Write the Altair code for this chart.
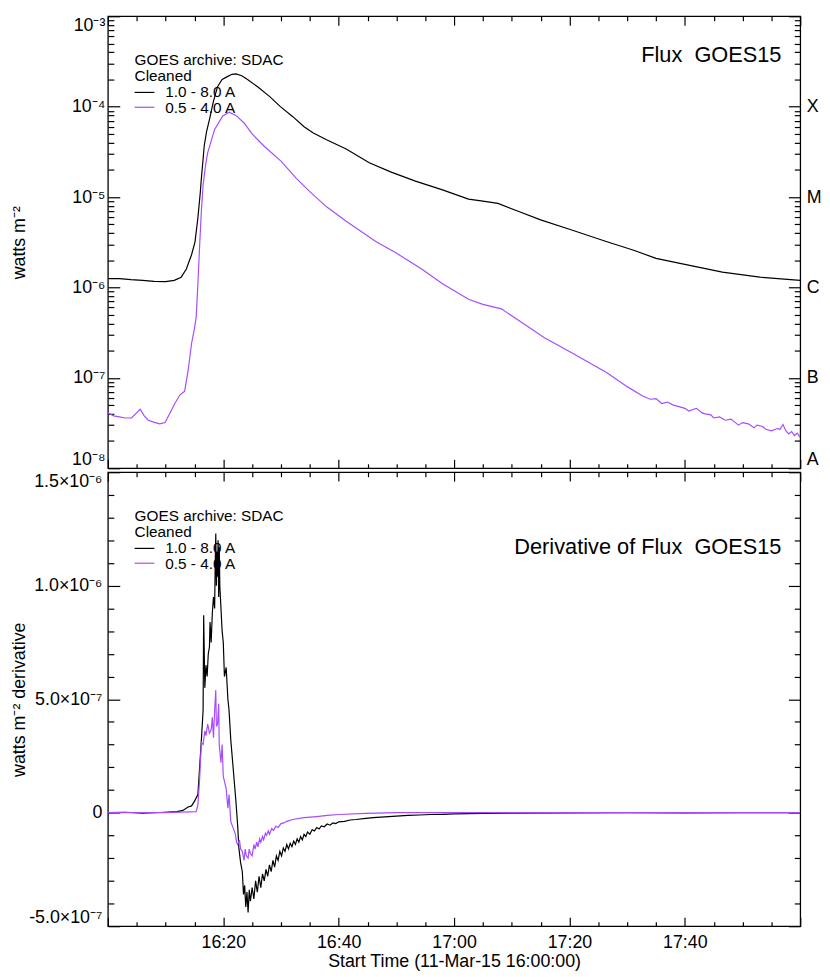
import json
import altair as alt
import pandas as pd

# ---------------- data (time in minutes after 11-Mar-15 16:00:00) ----------------
long_t = [0, 2, 4, 6, 8, 10, 11.5, 12.7, 13.6, 14.5, 15.1, 15.6, 16.0, 16.2, 16.7, 17.1,
          17.6, 18.3, 19.0, 19.8, 20.7, 21.5, 22.2, 23.2, 24.2, 26, 28, 29.9, 32, 34, 35.6,
          37.9, 41.3, 45.3, 49, 53.3, 58, 62.5, 65, 67.6, 71, 75, 80, 86.5, 91, 95, 100,
          106.5, 113, 120]
long_v = [1.25e-6, 1.25e-6, 1.22e-6, 1.2e-6, 1.17e-6, 1.16e-6, 1.2e-6, 1.3e-6, 1.6e-6, 2.3e-6,
          3.2e-6, 5.9e-6, 1.1e-5, 1.6e-5, 3.7e-5, 5.3e-5, 7.2e-5, 1.15e-4, 1.66e-4, 2.0e-4,
          2.15e-4, 2.28e-4, 2.3e-4, 2.2e-4, 2.0e-4, 1.65e-4, 1.3e-4, 1.0e-4, 7.8e-5, 6.0e-5,
          5.1e-5, 4.3e-5, 3.4e-5, 2.4e-5, 1.9e-5, 1.5e-5, 1.2e-5, 9.5e-6, 9.0e-6, 8.5e-6,
          7.0e-6, 5.6e-6, 4.4e-6, 3.2e-6, 2.6e-6, 2.1e-6, 1.8e-6, 1.48e-6, 1.3e-6, 1.2e-6]

short_t = [0, 1, 2, 3, 4.1, 4.8, 5.6, 6.3, 7, 8.2, 9, 9.9, 10.7, 11.6, 12.5, 13.3, 13.9,
           14.5, 15.0, 15.3, 15.6, 15.9, 16.2, 16.5, 16.9, 17.3, 18.5, 19.9, 21.0, 22.2, 23.6,
           25, 27, 30, 32.7, 35, 37.9, 41.3, 46.5, 50, 54.5, 58, 62.5, 65, 68.2, 72, 75.6, 81,
           86.5, 90, 92.7, 94, 95, 96, 97, 98, 99, 100, 100.7, 101.5, 102, 103, 103.5, 104.5,
           105, 106, 107, 108, 109.3, 110, 111, 112, 112.5, 113.5, 114, 115, 116, 116.5, 117,
           117.5, 118, 118.5, 119, 119.5, 120]
short_v = [4.1e-8, 3.8e-8, 3.7e-8, 3.6e-8, 3.6e-8, 4.0e-8, 4.5e-8, 3.8e-8, 3.4e-8, 3.2e-8,
           3.1e-8, 3.2e-8, 4.0e-8, 5.2e-8, 6.5e-8, 7.1e-8, 1.2e-7, 2.4e-7, 3.5e-7, 4.7e-7,
           1.1e-6, 2.9e-6, 7.0e-6, 1.35e-5, 2.2e-5, 3.1e-5, 5.6e-5, 7.9e-5, 8.7e-5, 8.0e-5,
           6.6e-5, 5.0e-5, 3.7e-5, 2.5e-5, 1.6e-5, 1.15e-5, 7.8e-6, 5.4e-6, 3.2e-6, 2.4e-6,
           1.58e-6, 1.1e-6, 7.4e-7, 6.5e-7, 5.8e-7, 4.0e-7, 2.8e-7, 1.8e-7, 1.14e-7, 8.0e-8,
           6.3e-8, 5.8e-8, 5.9e-8, 5.2e-8, 5.4e-8, 5.0e-8, 4.8e-8, 4.6e-8, 4.3e-8, 4.5e-8,
           4.6e-8, 4.1e-8, 4.0e-8, 3.9e-8, 3.6e-8, 3.7e-8, 3.4e-8, 3.5e-8, 3.0e-8, 3.2e-8,
           3.1e-8, 2.8e-8, 3.0e-8, 2.9e-8, 2.7e-8, 2.6e-8, 2.75e-8, 2.7e-8, 3.05e-8, 2.6e-8,
           2.4e-8, 2.55e-8, 2.3e-8, 2.45e-8, 2.2e-8]

dlong_t = [0, 3, 6, 9, 12, 13, 13.9, 14.5, 15, 15.6, 15.9, 16.2, 16.5, 16.6, 16.8, 17.0,
           17.2, 17.4, 17.6, 17.7, 17.9, 18.1, 18.3, 18.5, 18.6, 18.7, 18.8, 18.9, 19.0, 19.1,
           19.2, 19.3, 19.4, 19.6, 19.8, 20.0, 20.2, 20.5, 20.8, 21.0, 21.3, 21.7, 22.2, 22.5,
           22.7, 23.0, 23.3, 23.5, 23.7, 23.9, 24.1, 24.3, 24.5, 24.7, 25.0, 25.3, 25.6, 25.9,
           26.2, 26.5, 26.8, 27.1, 27.4, 27.7, 28.0, 28.3, 28.6, 28.9, 29.2, 29.5, 29.8, 30.1,
           30.4, 30.7, 31.0, 31.3, 31.6, 31.9, 32.2, 32.5, 32.8, 33.1, 33.4, 33.7, 34.0, 34.3,
           34.6, 35.0, 35.4, 35.8, 36.2, 36.6, 37.0, 37.5, 38.0, 38.5, 39.0, 39.5, 40.0, 41,
           42, 43, 44.7, 46, 48, 50, 52, 54, 56, 58, 60, 65, 70, 80, 90, 100, 110, 120]
dlong_v = [0.0, 0.02e-7, -0.02e-7, 0.01e-7, 0.05e-7, 0.1e-7, 0.25e-7, 0.3e-7, 0.5e-7, 0.8e-7,
           2.0e-7, 3.2e-7, 4.5e-7, 8.7e-7, 5.5e-7, 6.5e-7, 6.0e-7, 7.0e-7, 7.3e-7, 8.4e-7,
           7.5e-7, 8.8e-7, 9.5e-7, 9.0e-7, 11.0e-7, 12.3e-7, 10.0e-7, 11.5e-7, 10.4e-7, 12.0e-7,
           9.5e-7, 11.7e-7, 10.0e-7, 9.0e-7, 8.0e-7, 7.5e-7, 6.0e-7, 6.4e-7, 5.0e-7, 4.5e-7,
           3.2e-7, 2.0e-7, 0.47e-7, -0.6e-7, -1.55e-7, -2.2e-7, -2.6e-7, -3.6e-7, -3.2e-7,
           -4.15e-7, -3.5e-7, -4.4e-7, -3.4e-7, -3.9e-7, -3.3e-7, -3.8e-7, -3.0e-7, -3.5e-7,
           -2.8e-7, -3.3e-7, -2.7e-7, -3.0e-7, -2.5e-7, -2.8e-7, -2.3e-7, -2.6e-7, -2.1e-7,
           -2.4e-7, -1.9e-7, -2.1e-7, -1.7e-7, -1.9e-7, -1.55e-7, -1.7e-7, -1.4e-7, -1.6e-7,
           -1.35e-7, -1.5e-7, -1.25e-7, -1.4e-7, -1.15e-7, -1.3e-7, -1.05e-7, -1.2e-7, -0.95e-7,
           -1.05e-7, -0.85e-7, -0.95e-7, -0.75e-7, -0.8e-7, -0.65e-7, -0.72e-7, -0.58e-7,
           -0.62e-7, -0.5e-7, -0.55e-7, -0.45e-7, -0.48e-7, -0.4e-7, -0.38e-7, -0.32e-7,
           -0.3e-7, -0.25e-7, -0.22e-7, -0.18e-7, -0.15e-7, -0.12e-7, -0.1e-7, -0.08e-7,
           -0.07e-7, -0.05e-7, -0.03e-7, -0.02e-7, -0.01e-7, 0.0, -0.01e-7, 0.0, 0.0]

dshort_t = [0, 5, 10, 15.3, 15.6, 15.9, 16.2, 16.5, 16.8, 17.0, 17.3, 17.6, 17.9, 18.1, 18.3,
            18.5, 18.7, 18.8, 19.0, 19.2, 19.3, 19.6, 19.8, 20.0, 20.5, 20.8, 21.0, 21.3, 21.6,
            21.9, 22.1, 22.3, 22.5, 22.8, 23.0, 23.3, 23.6, 23.8, 24.0, 24.3, 24.5, 24.7, 25.0,
            25.3, 25.5, 25.8, 26.0, 26.3, 26.5, 26.8, 27.0, 27.3, 27.5, 27.8, 28.0, 28.4, 28.7,
            29.1, 29.5, 30.0, 30.5, 31, 32, 34, 36.2, 38, 40, 44.7, 50, 120]
dshort_v = [0.0, 0.0, 0.0, 0.05e-7, 0.34e-7, 1.5e-7, 3.1e-7, 3.0e-7, 3.6e-7, 3.4e-7, 3.9e-7,
            3.5e-7, 3.65e-7, 4.2e-7, 3.3e-7, 4.5e-7, 5.4e-7, 3.8e-7, 3.9e-7, 4.8e-7, 3.0e-7,
            2.2e-7, 3.0e-7, 1.6e-7, 1.05e-7, 0.2e-7, 0.8e-7, -0.39e-7, -0.6e-7, -0.8e-7,
            -0.95e-7, -1.3e-7, -1.4e-7, -1.2e-7, -1.6e-7, -1.7e-7, -2.1e-7, -1.6e-7, -1.9e-7,
            -2.0e-7, -1.6e-7, -1.8e-7, -1.9e-7, -1.4e-7, -1.6e-7, -1.3e-7, -1.5e-7, -1.15e-7,
            -1.3e-7, -1.05e-7, -1.2e-7, -0.9e-7, -1.0e-7, -0.8e-7, -0.95e-7, -0.7e-7, -0.78e-7,
            -0.6e-7, -0.65e-7, -0.48e-7, -0.45e-7, -0.38e-7, -0.3e-7, -0.22e-7, -0.17e-7,
            -0.12e-7, -0.08e-7, -0.03e-7, 0.0, 0.0]

flux_tick_values = [1e-8, 1e-7, 1e-6, 1e-5, 1e-4, 1e-3]
flux_tick_labels = ["10⁻⁸", "10⁻⁷", "10⁻⁶", "10⁻⁵", "10⁻⁴", "10⁻³"]
class_values = [1e-8, 1e-7, 1e-6, 1e-5, 1e-4]
class_labels = ["A", "B", "C", "M", "X"]
deriv_tick_values = [-5e-7, 0, 5e-7, 1e-6, 1.5e-6]
deriv_tick_labels = ["-5.0×10⁻⁷", "0", "5.0×10⁻⁷", "1.0×10⁻⁶", "1.5×10⁻⁶"]
time_tick_values = [20, 40, 60, 80, 100]
time_tick_labels = ["16:20", "16:40", "17:00", "17:20", "17:40"]

legend_head = ["GOES archive: SDAC", "Cleaned"]
band_names = ["1.0 - 8.0 A", "0.5 - 4.0 A"]

# ---------------- styling ----------------
FONT = "Liberation Sans"
BLACK = "#000000"
PURPLE = "#a64cff"
W = 700
H_TOP = 457
H_BOT = 459
LW = 1.2

time_minor = list(range(0, 121, 5))
log_minor = [k * 10.0 ** e for e in range(-8, -3) for k in range(1, 10)] + [1e-3]
lin_minor = [k * 1e-7 for k in range(-5, 16)]

LOG_MAJOR = "abs(log(datum.value)/LN10 - round(log(datum.value)/LN10)) < 0.001"
LIN_MAJOR = "abs(datum.value/5e-7 - round(datum.value/5e-7)) < 0.001"
TIME_MAJOR = "datum.value % 20 == 0"

AX = dict(labelFont=FONT, labelFontSize=18, labelColor=BLACK,
          titleFont=FONT, titleFontSize=18, titleFontWeight="normal", titleColor=BLACK)


def lookup_expr(values, labels):
    return "%s[indexof(%s, datum.value)]" % (
        json.dumps(labels, ensure_ascii=False), json.dumps(values))


def tick_axis(orient, offset, values, test, major, minor):
    return alt.Axis(orient=orient, offset=offset, values=values, labels=False,
                    domain=False, grid=False, title=None, tickColor=BLACK, tickWidth=1.2,
                    tickSize={"condition": {"test": test, "value": major}, "value": minor})


xs = alt.Scale(domain=[0, 120], nice=False, zero=False)
one = pd.DataFrame({"k": [0]})


def txt(s, x, y, size, align="left"):
    return alt.Chart(one).mark_text(text=s, align=align, baseline="alphabetic", font=FONT,
                                    fontSize=size, color=BLACK).encode(
        x=alt.value(x), y=alt.value(y))


def swatch(color, y):
    return alt.Chart(one).mark_rule(color=color, strokeWidth=LW).encode(
        x=alt.value(27), x2=alt.value(47), y=alt.value(y))


def panel(d_long, d_short, yscale, H, y_values, y_labels, y_minor, y_test, ytitle,
          lab_pad, x_label_axis, title_text, title_y, right_labels=None):
    def line(df, color, xaxis, yaxis, opacity=1.0):
        return alt.Chart(df).mark_line(color=color, strokeWidth=LW, opacity=opacity,
                                       clip=True).encode(
            x=alt.X("t:Q", scale=xs, axis=xaxis),
            y=alt.Y("v:Q", scale=yscale, axis=yaxis))

    y_lab_axis = alt.Axis(orient="left", values=y_values, labelExpr=lookup_expr(y_values, y_labels),
                          ticks=False, domain=False, grid=False, labelPadding=lab_pad,
                          labelFlush=True, title=ytitle, titleX=-84, titleBaseline="alphabetic",
                          titleAngle=270, **AX)
    layers = [
        line(d_long, BLACK, x_label_axis, y_lab_axis),
        line(d_short, PURPLE,
             tick_axis("bottom", -H, time_minor, TIME_MAJOR, 9, 4.5),
             tick_axis("right", -W, y_minor, y_test, 12, 6)),
        line(d_long, BLACK,
             tick_axis("top", -H, time_minor, TIME_MAJOR, 9, 4.5),
             tick_axis("left", -W, y_minor, y_test, 12, 6), opacity=0.0),
    ]
    if right_labels is not None:
        vals, labs = right_labels
        layers.append(line(d_long, BLACK, None,
                           alt.Axis(orient="right", values=vals, labelExpr=lookup_expr(vals, labs),
                                    ticks=False, domain=False, grid=False, labelPadding=6,
                                    labelFlush=True, labelAlign="left", title=None, **AX),
                           opacity=0.0))
    layers += [
        txt(legend_head[0], 27, 49, 15.5),
        txt(legend_head[1], 27, 65, 15.5),
        swatch(BLACK, 77),
        txt(band_names[0], 58, 82, 15.5),
        swatch(PURPLE, 92),
        txt(band_names[1], 58, 98, 15.5),
        txt(title_text, 681, title_y, 22, align="right"),
    ]
    return alt.layer(*layers).properties(width=W, height=H).resolve_axis(
        x="independent", y="independent")


top_long = pd.DataFrame({"t": long_t, "v": long_v})
top_short = pd.DataFrame({"t": short_t, "v": short_v})
bot_long = pd.DataFrame({"t": dlong_t, "v": dlong_v})
bot_short = pd.DataFrame({"t": dshort_t, "v": dshort_v})

top = panel(top_long, top_short,
            alt.Scale(type="log", domain=[1e-8, 1e-3], nice=False),
            H_TOP, flux_tick_values, flux_tick_labels, log_minor, LOG_MAJOR,
            "watts m⁻²", 3, None, "Flux \u00a0GOES15", 46,
            right_labels=(class_values, class_labels))

x_lab = alt.Axis(orient="bottom", values=time_tick_values,
                 labelExpr=lookup_expr(time_tick_values, time_tick_labels),
                 ticks=False, domain=False, grid=False, labelPadding=8,
                 title="Start Time (11-Mar-15 16:00:00)", titlePadding=1, **AX)

bottom = panel(bot_long, bot_short,
               alt.Scale(domain=[-5e-7, 1.5e-6], nice=False, zero=False),
               H_BOT, deriv_tick_values, deriv_tick_labels, lin_minor, LIN_MAJOR,
               "watts m⁻² derivative", 6, x_lab, "Derivative of Flux \u00a0GOES15", 83)

chart = alt.vconcat(top, bottom, spacing=0).properties(
    padding={"left": 2, "top": 1, "right": 0, "bottom": 0}
).configure_view(stroke=BLACK, strokeWidth=1.3).configure_axis(**AX)

chart.save("out.html", embed_options={"renderer": "svg", "actions": False})
